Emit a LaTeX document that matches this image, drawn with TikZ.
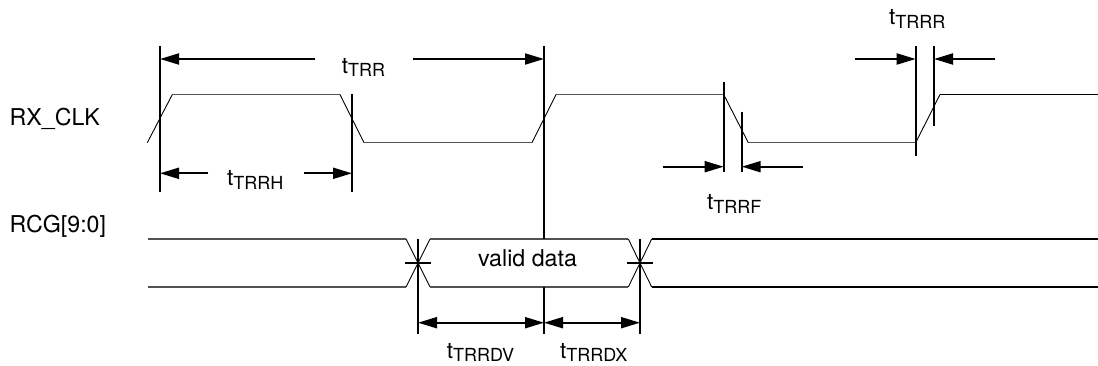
\documentclass[tikz,border=0pt]{standalone}
\usepackage{fontspec}
\setmainfont{TeX Gyre Heros}
\usetikzlibrary{arrows.meta}
\newcommand{\tsub}[1]{t\raisebox{-3.3pt}{\fontsize{18}{19}\selectfont #1}}
\begin{document}
\begin{tikzpicture}[x=1pt,y=-1pt,
  lvl/.style={draw=black!68,line width=1.3pt},
  lvlend/.style={draw=black,line width=1.8pt},
  edge/.style={draw=black,line width=0.9pt},
  refline/.style={draw=black,line width=2pt},
  dim/.style={draw=black,line width=2pt,-{Triangle[length=19pt,width=11pt]}},
  dimboth/.style={draw=black,line width=2pt,{Triangle[length=19pt,width=11pt]}-{Triangle[length=19pt,width=11pt]}},
  lbl/.style={inner sep=0pt,anchor=base west,font=\fontsize{23.2}{25}\selectfont},
  tlbl/.style={inner sep=0pt,anchor=base west,font=\fontsize{22.5}{24}\selectfont}]
\useasboundingbox (0,0) rectangle (1098,366);

% signal names
\node[lbl] (rxclk) at (9.5,126) {RX\_CLK};
\node[lbl] (rcg) at (9.5,232.5) {RCG[9:0]};

% clock levels
\draw[lvl] (172.3,94.5) -- (340,94.5);
\draw[lvl] (364,142.7) -- (532,142.7);
\draw[lvl] (556,94.5) -- (723.7,94.5);
\draw[lvl] (748.3,142.7) -- (915.7,142.7);
\draw[lvlend] (940,94.5) -- (1098,94.5);
% clock edges
\draw[edge] (147.3,142.7) -- (172.3,94.5);
\draw[edge] (340,94.5) -- (364,142.7);
\draw[edge] (532,142.7) -- (556,94.5);
\draw[edge] (723.7,94.5) -- (748.3,142.7);
\draw[edge] (915.7,142.7) -- (940,94.5);

% data bus
\draw[lvl] (148,239) -- (406,239);
\draw[lvl] (148,287) -- (406,287);
\draw[edge] (406,239) -- (430,287);
\draw[edge] (406,287) -- (430,239);
\draw[lvl] (430,239) -- (628.3,239);
\draw[lvl] (430,287) -- (628.3,287);
\draw[edge] (628.3,239) -- (651.7,287);
\draw[edge] (628.3,287) -- (651.7,239);
\draw[lvlend] (651.7,239) -- (1098,239);
\draw[lvlend] (651.7,287) -- (1098,287);
\draw[refline] (405,263) -- (431,263);
\draw[refline] (627,263) -- (653,263);
\node[lbl,anchor=base] (valid) at (527.5,266.7) {valid data};

% reference lines
\coordinate (a1) at (160,46);   \coordinate (a2) at (160,191.7);
\coordinate (b1) at (352,94.5); \coordinate (b2) at (352,191.7);
\coordinate (c1) at (544,46);   \coordinate (c2) at (544,239);
\coordinate (c3) at (544,287);  \coordinate (c4) at (544,334);
\coordinate (d1) at (723.7,82.3); \coordinate (d2) at (723.7,172.3);
\coordinate (e1) at (741.7,111.7); \coordinate (e2) at (741.7,172.3);
\coordinate (f1) at (915.7,46); \coordinate (f2) at (915.7,155.7);
\coordinate (g1) at (934,46);   \coordinate (g2) at (934,125.7);
\coordinate (h1) at (418,239);  \coordinate (h2) at (418,334);
\coordinate (k1) at (640,239);  \coordinate (k2) at (640,334);
\foreach \p in {a,b,c,d,e,f,g,h,k} \draw[refline] (\p1) -- (\p2);
\draw[refline] (c3) -- (c4);

% dimension arrows
\coordinate (trrL) at (315,59);   \coordinate (trrR) at (413,59);
\draw[dim] (trrL) -- (a1 |- trrL);
\draw[dim] (trrR) -- (c1 |- trrR);
\coordinate (trrhL) at (208.3,173.3); \coordinate (trrhR) at (304,173.3);
\draw[dim] (trrhL) -- (a1 |- trrhL);
\draw[dim] (trrhR) -- (b1 |- trrhR);
\coordinate (trrfL) at (662.7,166.7); \coordinate (trrfR) at (802.7,166.7);
\draw[dim] (trrfL) -- (d1 |- trrfL);
\draw[dim] (trrfR) -- (e1 |- trrfR);
\coordinate (trrrL) at (855,59); \coordinate (trrrR) at (995,59);
\draw[dim] (trrrL) -- (f1 |- trrrL);
\draw[dim] (trrrR) -- (g1 |- trrrR);
\coordinate (dvy) at (0,322.7);
\draw[dimboth] (h1 |- dvy) -- (c1 |- dvy);
\draw[dimboth] (c1 |- dvy) -- (k1 |- dvy);

% timing labels
\node[tlbl] (ltrr) at (341.7,73.3) {\tsub{TRR}};
\node[tlbl] (ltrrh) at (227,186) {\tsub{TRRH}};
\node[tlbl] (ltrrf) at (707,210) {\tsub{TRRF}};
\node[tlbl] (ltrrr) at (889,25) {\tsub{TRRR}};
\node[tlbl] (ltrrdv) at (446.7,358.3) {\tsub{TRRDV}};
\node[tlbl] (ltrrdx) at (560,358.3) {\tsub{TRRDX}};
\end{tikzpicture}
\end{document}
